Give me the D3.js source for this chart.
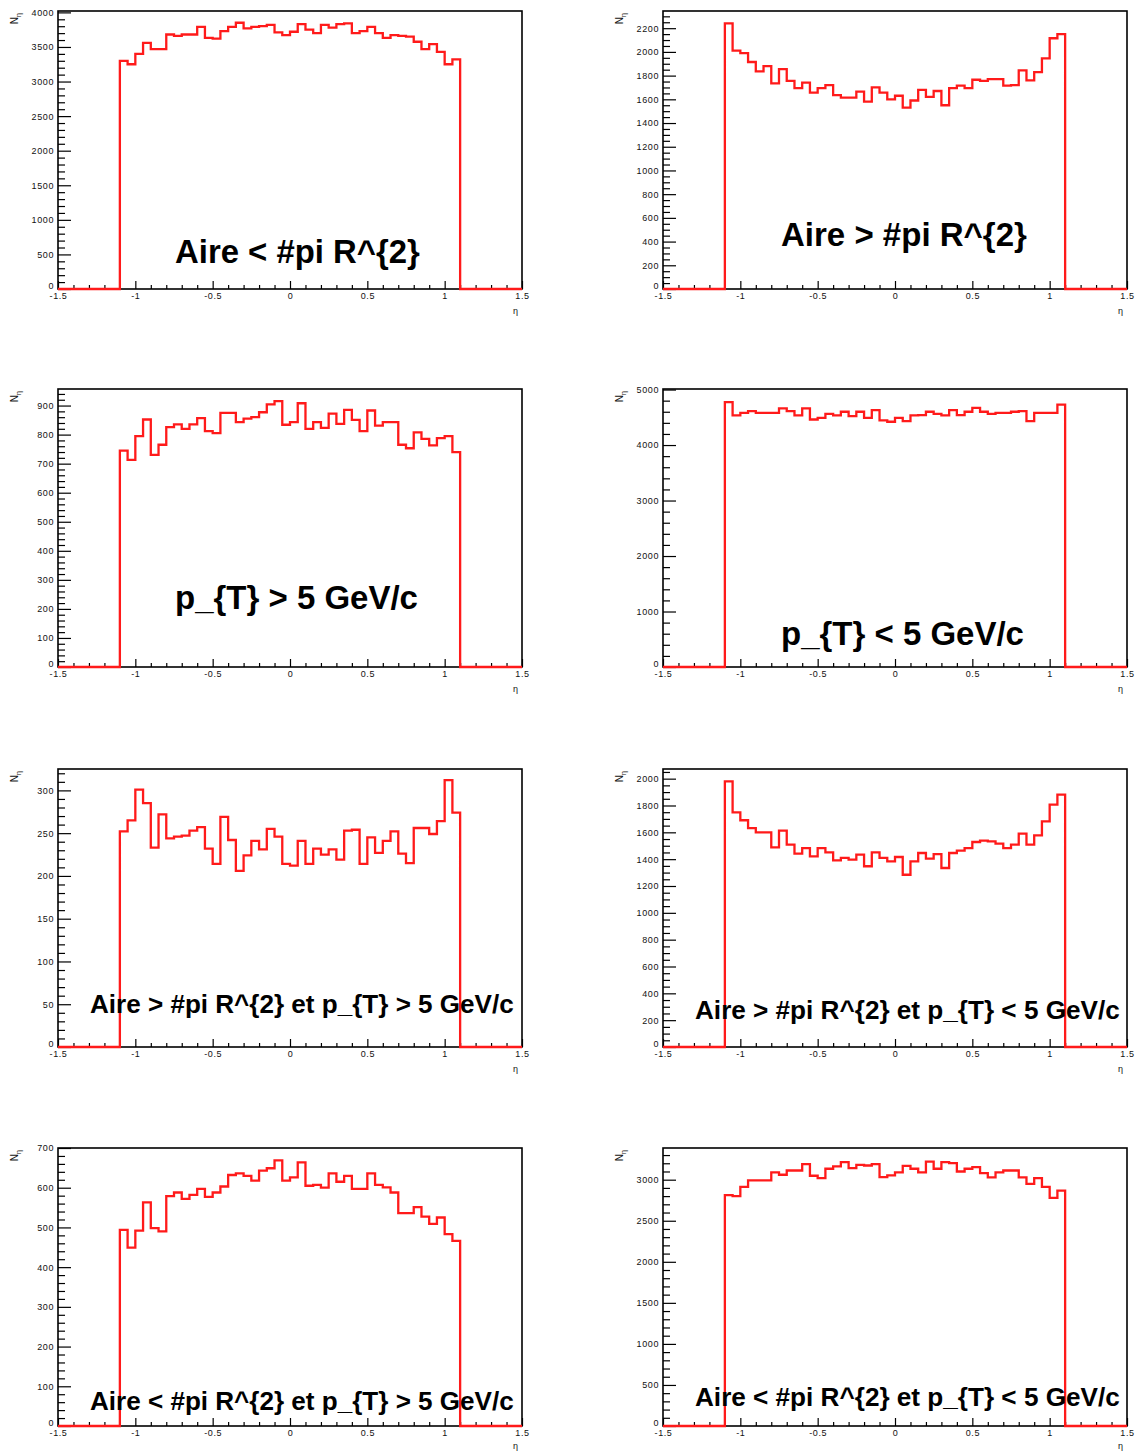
<!DOCTYPE html>
<html><head><meta charset="utf-8">
<script src="https://cdn.jsdelivr.net/npm/d3@7"></script>
<style>body{margin:0;background:#fff}</style>
</head><body>
<svg id="c" width="1142" height="1453" xmlns="http://www.w3.org/2000/svg"></svg>
<script>
// ---- data ----
const etaDomain = [-1.5, 1.5];
const etaFilledStart = -1.1;
const binWidth = 0.05;
const xMajorTicks = [-1.5, -1, -0.5, 0, 0.5, 1, 1.5];

const titles = [
  "Aire < #pi R^{2}",
  "Aire > #pi R^{2}",
  "p_{T} > 5 GeV/c",
  "p_{T} < 5 GeV/c",
  "Aire > #pi R^{2} et p_{T} > 5 GeV/c",
  "Aire > #pi R^{2} et p_{T} < 5 GeV/c",
  "Aire < #pi R^{2} et p_{T} > 5 GeV/c",
  "Aire < #pi R^{2} et p_{T} < 5 GeV/c"
];

const airePetit = [3300,3250,3400,3560,3470,3470,3680,3660,3680,3680,3790,3630,3620,3730,3790,3850,3770,3790,3800,3820,3710,3670,
                   3720,3830,3750,3700,3820,3780,3830,3840,3700,3730,3790,3700,3630,3670,3660,3650,3575,3470,3540,3430,3250,3320];
const aireGrand = [2240,2010,1990,1915,1835,1880,1735,1855,1755,1695,1740,1657,1695,1720,1635,1615,1615,1665,1580,1700,1657,1600,
                   1630,1530,1590,1680,1620,1670,1550,1695,1715,1695,1765,1755,1770,1770,1715,1720,1845,1760,1830,1945,2115,2150];
const ptHaut = [745,713,795,852,730,765,826,835,820,835,857,812,805,875,875,843,855,860,877,904,915,834,
                843,908,820,843,823,872,837,885,851,812,883,831,843,843,765,753,808,785,763,788,795,740];
const ptBas = [4772,4533,4580,4610,4580,4580,4580,4660,4610,4533,4660,4460,4490,4563,4533,4600,4520,4600,4490,4630,4443,4420,
               4490,4430,4533,4540,4600,4563,4533,4630,4540,4600,4670,4600,4563,4580,4580,4600,4610,4430,4580,4580,4580,4730];
const grandPtHaut = [252,265,301,285,233,272,244,246,247,253,257,232,214,269,242,206,224,241,231,255,246,214,
                     212,241,214,232,225,231,219,253,254,214,245,227,241,252,226,215,256,256,249,264,312,274];
const grandPtBas = [1980,1749,1690,1632,1600,1600,1488,1612,1508,1441,1483,1421,1483,1451,1391,1409,1396,1434,1347,1451,1409,1384,
                    1416,1284,1384,1446,1404,1438,1334,1446,1463,1483,1528,1538,1533,1516,1483,1508,1590,1508,1578,1682,1806,1881];
const petitPtHaut = [494,449,492,563,498,490,579,588,572,582,597,577,588,603,632,636,630,618,643,649,669,618,
                     626,664,605,607,600,636,615,630,597,597,636,607,601,588,536,536,551,527,509,525,483,466];
const petitPtBas = [2811,2799,2912,2992,2992,2992,3088,3060,3112,3112,3189,3048,3020,3133,3161,3213,3141,3181,3173,3189,3032,3052,
                    3088,3169,3133,3088,3221,3133,3213,3201,3100,3133,3153,3080,3028,3088,3112,3112,3028,2948,3020,2912,2779,2867];

const series = [airePetit, aireGrand, ptHaut, ptBas, grandPtHaut, grandPtBas, petitPtHaut, petitPtBas];
const yMax = [4020, 2345, 957, 5010, 325, 2072, 700, 3386];
const yMajorStep = [500, 200, 100, 1000, 50, 200, 100, 500];
const yMinorStep = [100, 50, 20, 200, 10, 50, 20, 100];

// ---- layout ----
const colLeft = [58, 663];
const rowTop = [11, 389, 769, 1148];
const plotW = 464, plotH = 278;
const titleLeft = [175, 781, 175, 781, 90, 695, 90, 695];
const titleWidth = [245, 246, 243, 243, 424, 425, 424, 425];
const titleBase = [263, 246, 609, 645, 1013, 1019, 1410, 1406];

const svg = d3.select("#c");
const font = "'Liberation Sans', Arial, Helvetica, sans-serif";

series.forEach((vals, p) => {
  const L = colLeft[p % 2], T = rowTop[Math.floor(p / 2)];
  const g = svg.append("g").attr("transform", `translate(${L},${T})`);
  const x = d3.scaleLinear().domain(etaDomain).range([0, plotW]);
  const y = d3.scaleLinear().domain([0, yMax[p]]).range([plotH, 0]);

  // title (drawn under the histogram)
  const t = svg.append("text")
    .attr("x", titleLeft[p]).attr("y", titleBase[p])
    .attr("font-family", font).attr("font-weight", "bold")
    .attr("font-size", 26).attr("fill", "#000")
    .text(titles[p]);
  const len = t.node().getComputedTextLength();
  t.attr("font-size", 26 * titleWidth[p] / len);

  // y axis minor & major
  const majors = d3.range(0, yMax[p] + 1e-9, yMajorStep[p]);
  const minors = d3.range(0, yMax[p] + 1e-9, yMinorStep[p]).filter(v => !majors.some(m => Math.abs(m - v) < 1e-9));
  const yMinorAxis = d3.axisLeft(y).tickValues(minors).tickSize(-7).tickFormat("");
  const yMajorAxis = d3.axisLeft(y).tickValues(majors).tickSize(-13).tickPadding(4).tickFormat(d => String(d));
  const gy1 = g.append("g").call(yMinorAxis);
  const gy2 = g.append("g").call(yMajorAxis);

  // x axis minor & major
  const xMinors = d3.range(-15, 16).map(v => v / 10).filter(v => !xMajorTicks.some(m => Math.abs(m - v) < 1e-9));
  const xMinorAxis = d3.axisBottom(x).tickValues(xMinors).tickSize(-4).tickFormat("");
  const xMajorAxis = d3.axisBottom(x).tickValues(xMajorTicks).tickSize(-8).tickPadding(4).tickFormat(d => String(d));
  const gx1 = g.append("g").attr("transform", `translate(0,${plotH})`).call(xMinorAxis);
  const gx2 = g.append("g").attr("transform", `translate(0,${plotH})`).call(xMajorAxis);

  [gy1, gy2, gx1, gx2].forEach(a => {
    a.select(".domain").remove();
    a.selectAll(".tick line").attr("stroke", "#000").attr("stroke-width", 1.2);
    a.selectAll(".tick text").attr("font-family", font).attr("font-size", 9)
      .attr("fill", "#111").attr("letter-spacing", 0.6);
  });
  // lift the "0" y label a little so it sits above the x labels, as in ROOT
  gy2.selectAll(".tick text").filter(d => d === 0).attr("dy", "-0.05em");

  // frame
  g.append("rect").attr("x", 0).attr("y", 0).attr("width", plotW).attr("height", plotH)
    .attr("fill", "none").attr("stroke", "#000").attr("stroke-width", 1.6);

  // histogram outline
  const pts = [[etaDomain[0], 0], [etaFilledStart, 0]];
  vals.forEach((v, i) => {
    const x0 = etaFilledStart + i * binWidth;
    pts.push([x0, v], [x0 + binWidth, v]);
  });
  const end = etaFilledStart + vals.length * binWidth;
  pts.push([end, 0], [etaDomain[1], 0]);
  g.append("path").datum(pts)
    .attr("d", d3.line().x(d => x(d[0])).y(d => y(d[1])))
    .attr("fill", "none").attr("stroke", "#ff1a1a").attr("stroke-width", 2.3)
    .attr("stroke-linejoin", "miter");

  // axis titles
  const yt = svg.append("text")
    .attr("transform", `translate(${L - 40},${T + 2}) rotate(-90)`)
    .attr("text-anchor", "end").attr("font-family", font).attr("font-size", 10).attr("fill", "#111");
  yt.append("tspan").text("N");
  yt.append("tspan").attr("dy", 3).attr("font-size", 7).text("η");
  svg.append("text").attr("x", L + plotW - 4).attr("y", Math.min(T + plotH + 25, 1449))
    .attr("text-anchor", "end").attr("font-family", font).attr("font-size", 9).attr("fill", "#111")
    .text("η");
});
</script>
</body></html>
